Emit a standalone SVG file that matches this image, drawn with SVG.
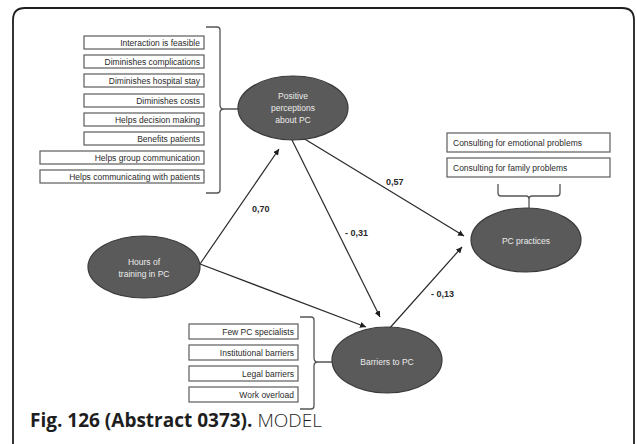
<svg xmlns="http://www.w3.org/2000/svg" width="637" height="444" viewBox="0 0 637 444">
<defs>
<style>
.frame{fill:none;stroke:#1e1e1e;stroke-width:1.8}
.box{fill:#fff;stroke:#5c5c5c;stroke-width:1.2}
.bt{font-family:"Liberation Sans",Arial,sans-serif;font-size:8.5px;fill:#2a2a2a}
.btr{text-anchor:end}
.el{fill:#5a5a5a;stroke:#3a3a3a;stroke-width:1.2}
.et{font-family:"Liberation Sans",Arial,sans-serif;font-size:8.5px;fill:#ececec;text-anchor:middle}
.br{fill:none;stroke:#555;stroke-width:1.3}
.ln{fill:none;stroke:#2a2a2a;stroke-width:1.2;marker-end:url(#ah)}
.lb{font-family:"Liberation Sans",Arial,sans-serif;font-size:9px;fill:#2a2a2a;font-weight:bold}
.cap{font-family:"Open Sans","Liberation Sans",sans-serif;font-size:19px;fill:#1e1e1e}
</style>
<marker id="ah" viewBox="0 0 10 10" refX="10" refY="5" markerWidth="6" markerHeight="6" orient="auto" markerUnits="userSpaceOnUse">
<path d="M0,0 L10,5 L0,10 z" fill="#1e1e1e"/>
</marker>
</defs>
<rect width="637" height="444" fill="#fff"/>
<path class="frame" d="M13,444 L13,20 Q13,8 25,8 L622,8 Q634,8 634,20 L634,444"/>

<g id="perception-items">
<rect class="box" x="84" y="36" width="120" height="13"/><text class="bt btr" x="200" y="46">Interaction is feasible</text>
<rect class="box" x="84" y="55" width="120" height="13"/><text class="bt btr" x="200" y="65">Diminishes complications</text>
<rect class="box" x="84" y="74" width="120" height="13"/><text class="bt btr" x="200" y="84">Diminishes hospital stay</text>
<rect class="box" x="84" y="94" width="120" height="13"/><text class="bt btr" x="200" y="104">Diminishes costs</text>
<rect class="box" x="84" y="113" width="120" height="13"/><text class="bt btr" x="200" y="123">Helps decision making</text>
<rect class="box" x="84" y="132" width="120" height="13"/><text class="bt btr" x="200" y="142">Benefits patients</text>
<rect class="box" x="40" y="151" width="164" height="13"/><text class="bt btr" x="200" y="161">Helps group communication</text>
<rect class="box" x="40" y="170" width="164" height="13"/><text class="bt btr" x="200" y="180">Helps communicating with patients</text>
<path class="br" d="M206,27 L217,27 Q220,27 220,30 L220,105 Q220,109 224,109 L238,109 M206,193 L217,193 Q220,193 220,190 L220,113 Q220,109 224,109"/>
</g>

<g id="practice-items">
<rect class="box" x="447" y="133" width="163" height="19"/><text class="bt" x="453" y="146">Consulting for emotional problems</text>
<rect class="box" x="447" y="158" width="163" height="19"/><text class="bt" x="453" y="171">Consulting for family problems</text>
<path class="br" d="M498,184 L498,193 Q498,196 501,196 L526,196 Q529,196 529,199 L529,208 M560,184 L560,193 Q560,196 557,196 L532,196 Q529,196 529,199"/>
</g>

<g id="barrier-items">
<rect class="box" x="189" y="324" width="109" height="15"/><text class="bt btr" x="294" y="335">Few PC specialists</text>
<rect class="box" x="189" y="345" width="109" height="15"/><text class="bt btr" x="294" y="356">Institutional barriers</text>
<rect class="box" x="189" y="366" width="109" height="15"/><text class="bt btr" x="294" y="377">Legal barriers</text>
<rect class="box" x="189" y="387" width="109" height="15"/><text class="bt btr" x="294" y="398">Work overload</text>
<path class="br" d="M300,317 L311,317 Q314,317 314,320 L314,358 Q314,362 318,362 L333,362 M300,409 L311,409 Q314,409 314,406 L314,366 Q314,362 318,362"/>
</g>

<g id="connectors">
<line class="ln" x1="200" y1="264" x2="279" y2="149"/>
<line class="ln" x1="200" y1="264" x2="366" y2="327"/>
<line class="ln" x1="292" y1="140" x2="380" y2="317"/>
<line class="ln" x1="303" y1="138" x2="464" y2="236"/>
<line class="ln" x1="388" y1="330" x2="462" y2="247"/>
<text class="lb" x="252" y="212">0,70</text>
<text class="lb" x="345" y="236">- 0,31</text>
<text class="lb" x="386" y="185">0,57</text>
<text class="lb" x="431" y="297">- 0,13</text>
</g>

<g id="positive">
<ellipse class="el" cx="293" cy="108" rx="55" ry="32"/>
<text class="et" x="293" y="99">Positive</text>
<text class="et" x="293" y="111">perceptions</text>
<text class="et" x="293" y="123">about PC</text>
</g>
<g id="hours">
<ellipse class="el" cx="144" cy="267" rx="56" ry="31"/>
<text class="et" x="144" y="265">Hours  of</text>
<text class="et" x="144" y="277">training in PC</text>
</g>
<g id="barriers">
<ellipse class="el" cx="387" cy="360" rx="55" ry="33"/>
<text class="et" x="387" y="365">Barriers to PC</text>
</g>
<g id="practices">
<ellipse class="el" cx="526" cy="240" rx="55" ry="32"/>
<text class="et" x="526" y="244">PC practices</text>
</g>

<text class="cap" x="30" y="427"><tspan font-weight="bold">Fig. 126 (Abstract 0373).</tspan><tspan font-weight="300"> MODEL</tspan></text>
</svg>
